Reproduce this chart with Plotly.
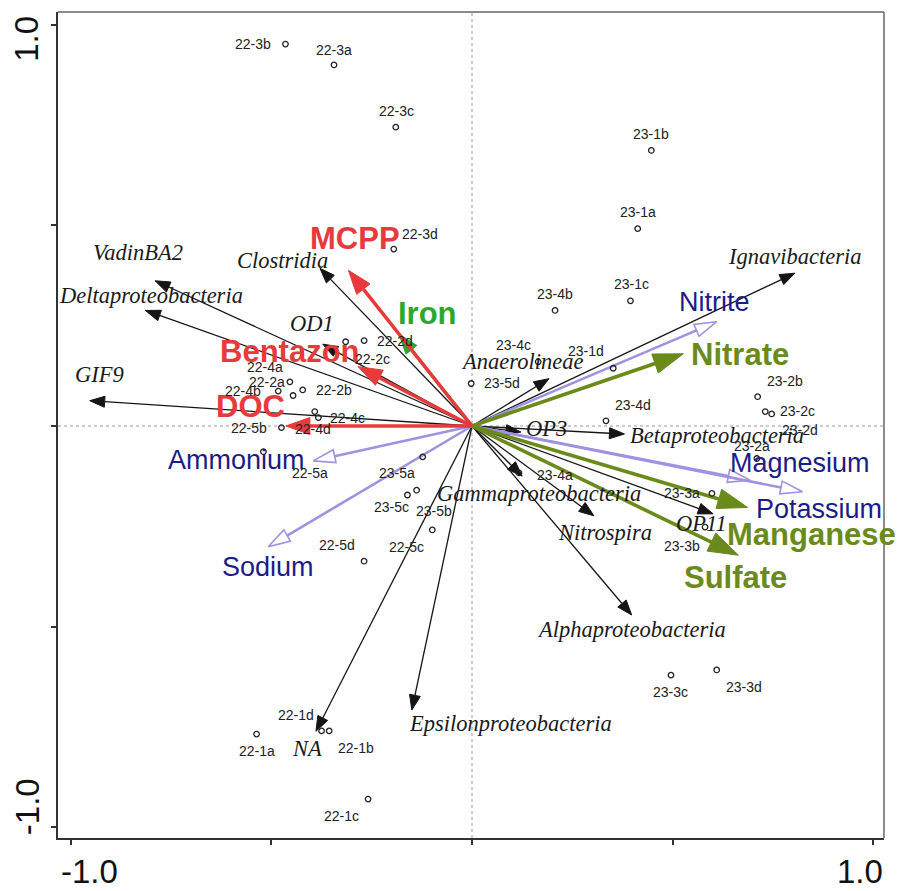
import math
import plotly.graph_objects as go

# ---------------- data ----------------
species_names = ["VadinBA2", "Deltaproteobacteria", "Clostridia", "OD1", "GIF9",
                 "Ignavibacteria", "Anaerolineae", "OP3", "Betaproteobacteria",
                 "Gammaproteobacteria", "Nitrospira", "OP11", "Alphaproteobacteria",
                 "Epsilonproteobacteria", "NA"]
species_x = [-0.790, -0.814, -0.379, -0.372, -0.953, 0.805, 0.192, 0.122, 0.380,
             0.125, 0.304, 0.601, 0.398, -0.150, -0.389]
species_y = [0.362, 0.288, 0.393, 0.204, 0.063, 0.381, 0.118, -0.015, -0.020,
             -0.125, -0.224, -0.219, -0.471, -0.708, -0.761]

env_names = ["MCPP", "Iron", "Bentazon", "DOC", "Ammonium", "Sodium", "Nitrite",
             "Nitrate", "Magnesium", "Potassium", "Manganese", "Sulfate"]
env_x = [-0.308, -0.182, -0.284, -0.464, -0.396, -0.508, 0.610, 0.527, 0.693,
         0.824, 0.687, 0.664]
env_y = [0.388, 0.229, 0.148, 0.000, -0.087, -0.301, 0.260, 0.180, -0.135,
         -0.164, -0.203, -0.322]
env_group = ["red", "green", "red", "red", "blue", "blue", "blue", "olive", "blue",
             "blue", "olive", "olive"]

sample_names = ["22-1a", "22-1b", "22-1c", "22-1d", "22-2a", "22-2b", "22-2c", "22-2d",
                "22-3a", "22-3b", "22-3c", "22-3d", "22-4a", "22-4b", "22-4c", "22-4d",
                "22-5a", "22-5b", "22-5c", "22-5d", "23-1a", "23-1b", "23-1c", "23-1d",
                "23-2a", "23-2b", "23-2c", "23-2d", "23-3a", "23-3b", "23-3c", "23-3d",
                "23-4a", "23-4b", "23-4c", "23-4d", "23-5a", "23-5b", "23-5c", "23-5d"]
sample_x = [-0.537, -0.356, -0.259, -0.375, -0.454, -0.422, -0.315, -0.269,
            -0.344, -0.465, -0.190, -0.195, -0.446, -0.483, -0.392, -0.383,
            -0.520, -0.475, -0.099, -0.269, 0.413, 0.447, 0.395, 0.352,
            0.710, 0.712, 0.731, 0.747, 0.598, 0.581, 0.496, 0.610,
            0.117, 0.207, 0.165, 0.334, -0.123, -0.138, -0.161, -0.002]
sample_y = [-0.768, -0.760, -0.930, -0.760, 0.110, 0.090, 0.210, 0.213,
            0.900, 0.952, 0.745, 0.441, 0.076, 0.087, 0.036, 0.021,
            -0.064, -0.004, -0.259, -0.337, 0.492, 0.687, 0.312, 0.144,
            -0.081, 0.073, 0.036, 0.030, -0.168, -0.252, -0.621, -0.608,
            -0.117, 0.288, 0.160, 0.013, -0.077, -0.160, -0.172, 0.106]

axis_ticks = [-1.0, -0.5, 0.0, 0.5, 1.0]
axis_tick_labels = ["-1.0", "", "", "", "1.0"]

# ---------------- layout / style ----------------
W, H = 899, 891
ML, MR, MT, MB = 58, 15, 12, 53
XR = [-1.032, 1.027]
YR = [-1.027, 1.032]
PX = (W - ML - MR) / (XR[1] - XR[0])  # pixels per data unit

SERIF = "Liberation Serif, Times New Roman, serif"
SANS = "Liberation Sans, Arial, sans-serif"

SPECIES_STYLE = dict(color="#151515", width=1.3, head_len=15, head_half=5.5, open=False)
ENV_STYLE = {
    "red": dict(color="#e8393b", width=3.5, head_len=24, head_half=8.5, open=False,
                font="#e8393b", size=31, bold=True),
    "green": dict(color="#2aa82a", width=3.0, head_len=20, head_half=7, open=False,
                  font="#2aa82a", size=31, bold=True),
    "blue": dict(color="#9e92e3", width=2.6, head_len=22, head_half=6.5, open=True,
                 font="#1c1c87", size=27, bold=False),
    "olive": dict(color="#6a8a1c", width=3.6, head_len=30, head_half=10, open=False,
                  font="#6a8a1c", size=31, bold=True),
}

# label offsets (pixels, relative to arrow tip / point; +y = up)
SPECIES_LABEL_OFF = {
    "VadinBA2": (-17, 28), "Deltaproteobacteria": (6, 15), "Clostridia": (-37, 8),
    "OD1": (-11, 21), "GIF9": (10, 26), "Ignavibacteria": (0, 17),
    "Anaerolineae": (-27, 17), "OP3": (26, 4), "Betaproteobacteria": (93, -1),
    "Gammaproteobacteria": (17, -17), "Nitrospira": (11, -17), "OP11": (-12, -10),
    "Alphaproteobacteria": (0, -15), "Epsilonproteobacteria": (99, -13), "NA": (-9, -17),
}
ENV_LABEL_OFF = {
    "MCPP": (7, 32), "Iron": (29, 21), "Bentazon": (-68, 15), "DOC": (-35, 20),
    "Ammonium": (-77, 1), "Sodium": (0, -20), "Nitrite": (-2, 20), "Nitrate": (57, -1),
    "Magnesium": (50, 17), "Potassium": (16, -17), "Manganese": (64, -27),
    "Sulfate": (-3, -22),
}
SAMPLE_LABEL_OFF = {
    "22-1a": (0, -17), "22-1b": (27, -17), "22-1c": (-27, -17), "22-1d": (-26, 16),
    "22-2a": (-23, 0), "22-2b": (31, 0), "22-2c": (27, -17), "22-2d": (31, 0),
    "22-3a": (0, 15), "22-3b": (-32, 0), "22-3c": (1, 16), "22-3d": (26, 15),
    "22-4a": (-28, 29), "22-4b": (-35, 0), "22-4c": (33, -6), "22-4d": (-5, -11),
    "22-5a": (47, -21), "22-5b": (-32, 0), "22-5c": (-26, -17), "22-5d": (-27, 16),
    "23-1a": (0, 17), "23-1b": (0, 16), "23-1c": (1, 17), "23-1d": (-27, 17),
    "23-2a": (-5, 13), "23-2b": (27, 16), "23-2c": (32, 1), "23-2d": (28, -16),
    "23-3a": (-30, 0), "23-3b": (-23, -19), "23-3c": (0, -17), "23-3d": (27, -17),
    "23-4a": (36, -2), "23-4b": (0, 16), "23-4c": (-25, 17), "23-4d": (27, 16),
    "23-5a": (-26, -16), "23-5b": (17, -21), "23-5c": (-16, -12), "23-5d": (31, 0),
}

fig = go.Figure()


def add_arrow(tx, ty, st):
    d = math.hypot(tx, ty)
    ux, uy = tx / d, ty / d
    nx, ny = -uy, ux
    L = st["head_len"] / PX
    hw = st["head_half"] / PX
    bx, by = tx - L * ux, ty - L * uy
    fig.add_trace(go.Scatter(x=[0, bx], y=[0, by], mode="lines",
                             line=dict(color=st["color"], width=st["width"]),
                             hoverinfo="skip", showlegend=False))
    hx = [tx, bx + hw * nx, bx - hw * nx, tx]
    hy = [ty, by + hw * ny, by - hw * ny, ty]
    fig.add_trace(go.Scatter(x=hx, y=hy, mode="lines", fill="toself",
                             fillcolor="white" if st["open"] else st["color"],
                             line=dict(color=st["color"], width=1.6 if st["open"] else 1),
                             hoverinfo="skip", showlegend=False))


for sx, sy in zip(species_x, species_y):
    add_arrow(sx, sy, SPECIES_STYLE)

# draw blue (open) first, then olive, then green, then red
for grp in ["blue", "olive", "green", "red"]:
    for ex, ey, g in zip(env_x, env_y, env_group):
        if g == grp:
            add_arrow(ex, ey, ENV_STYLE[g])

fig.add_trace(go.Scatter(x=sample_x, y=sample_y, mode="markers",
                         marker=dict(symbol="circle-open", size=5.5, color="#222",
                                     line=dict(width=1.3, color="#222")),
                         hoverinfo="skip", showlegend=False))

ann = []
for n, sx, sy in zip(species_names, species_x, species_y):
    dx, dy = SPECIES_LABEL_OFF[n]
    ann.append(dict(x=sx, y=sy, xref="x", yref="y", xshift=dx, yshift=dy,
                    text=f"<i>{n}</i>", showarrow=False,
                    font=dict(family=SERIF, size=22.5, color="#1a1a1a"),
                    xanchor="center", yanchor="middle"))
for n, ex, ey, g in zip(env_names, env_x, env_y, env_group):
    st = ENV_STYLE[g]
    dx, dy = ENV_LABEL_OFF[n]
    txt = f"<b>{n}</b>" if st["bold"] else n
    ann.append(dict(x=ex, y=ey, xref="x", yref="y", xshift=dx, yshift=dy,
                    text=txt, showarrow=False,
                    font=dict(family=SANS, size=st["size"], color=st["font"]),
                    xanchor="center", yanchor="middle"))
for n, sx, sy in zip(sample_names, sample_x, sample_y):
    dx, dy = SAMPLE_LABEL_OFF[n]
    ann.append(dict(x=sx, y=sy, xref="x", yref="y", xshift=dx, yshift=dy,
                    text=n, showarrow=False,
                    font=dict(family=SANS, size=14, color="#222"),
                    xanchor="center", yanchor="middle"))

# axis tick labels (only the end ticks are labelled, nudged inwards as in the original)
TICK_FONT = dict(family=SANS, size=33, color="#111")
for v, t in zip(axis_ticks, axis_tick_labels):
    if not t:
        continue
    inward = 19 if v < 0 else -13
    ann.append(dict(x=v, y=0, xref="x", yref="paper", xshift=inward, yshift=-33,
                    text=t, showarrow=False, font=TICK_FONT,
                    xanchor="center", yanchor="middle"))
    inward_y = 20 if v < 0 else -14
    ann.append(dict(x=0, y=v, xref="paper", yref="y", xshift=-31, yshift=inward_y,
                    text=t, showarrow=False, font=TICK_FONT, textangle=-90,
                    xanchor="center", yanchor="middle"))

shapes = [
    dict(type="line", xref="x", yref="paper", x0=0, x1=0, y0=0, y1=1,
         line=dict(color="#9a9a9a", width=1, dash="dot"), layer="below"),
    dict(type="line", xref="paper", yref="y", x0=0, x1=1, y0=0, y1=0,
         line=dict(color="#9a9a9a", width=1, dash="dot"), layer="below"),
    dict(type="line", xref="paper", yref="paper", x0=0, x1=1, y0=1, y1=1,
         line=dict(color="#666", width=1.5)),
    dict(type="line", xref="paper", yref="paper", x0=1, x1=1, y0=0, y1=1,
         line=dict(color="#666", width=1.5)),
]

axis_common = dict(showgrid=False, zeroline=False, showline=True, linecolor="#333",
                   linewidth=1.8, ticks="outside", ticklen=5, tickwidth=1.5,
                   tickcolor="#333", tickvals=axis_ticks, showticklabels=False)

fig.update_layout(
    width=W, height=H,
    margin=dict(l=ML, r=MR, t=MT, b=MB),
    paper_bgcolor="white", plot_bgcolor="white",
    xaxis=dict(range=XR, **axis_common),
    yaxis=dict(range=YR, **axis_common),
    annotations=ann, shapes=shapes, showlegend=False,
)

fig.write_html("out.html")
